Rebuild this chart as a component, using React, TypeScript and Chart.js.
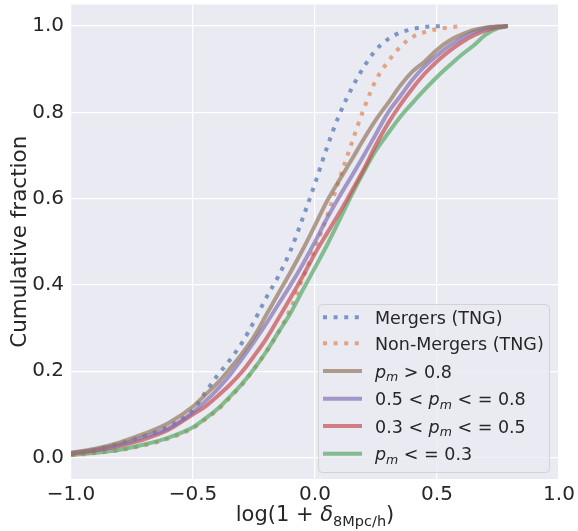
import React, { useEffect, useRef } from 'react';
import { Chart, registerables } from 'chart.js';

Chart.register(...registerables);

const xTicks = [-1.0, -0.5, 0.0, 0.5, 1.0];
const yTicks = [0.0, 0.2, 0.4, 0.6, 0.8, 1.0];

const xMergers = [-1, -0.9, -0.8, -0.7, -0.6, -0.5, -0.45, -0.4, -0.35, -0.3, -0.25, -0.2, -0.15, -0.1, -0.05, 0, 0.05, 0.1, 0.15, 0.2, 0.25, 0.3, 0.35, 0.4, 0.45, 0.53];
const yMergers = [0.008, 0.018, 0.032, 0.05, 0.072, 0.11, 0.15, 0.19, 0.225, 0.265, 0.315, 0.37, 0.42, 0.48, 0.555, 0.635, 0.72, 0.795, 0.855, 0.905, 0.945, 0.97, 0.985, 0.993, 0.998, 1.0];

const xNonMergers = [-1, -0.9, -0.8, -0.7, -0.6, -0.5, -0.45, -0.4, -0.35, -0.3, -0.25, -0.2, -0.15, -0.1, -0.05, 0, 0.05, 0.1, 0.15, 0.2, 0.25, 0.3, 0.35, 0.4, 0.45, 0.5, 0.55, 0.61];
const yNonMergers = [0.005, 0.01, 0.017, 0.028, 0.044, 0.068, 0.088, 0.11, 0.138, 0.168, 0.205, 0.245, 0.29, 0.345, 0.415, 0.485, 0.56, 0.645, 0.728, 0.808, 0.875, 0.918, 0.952, 0.975, 0.986, 0.993, 0.997, 1.0];

const xPm = [-1, -0.9, -0.8, -0.7, -0.6, -0.5, -0.45, -0.4, -0.35, -0.3, -0.25, -0.2, -0.15, -0.1, -0.05, 0, 0.05, 0.1, 0.15, 0.2, 0.25, 0.3, 0.35, 0.4, 0.45, 0.5, 0.55, 0.6, 0.65, 0.7, 0.75, 0.79];
const yPmHigh = [0.011, 0.02, 0.035, 0.055, 0.08, 0.118, 0.145, 0.172, 0.205, 0.24, 0.28, 0.33, 0.38, 0.43, 0.482, 0.538, 0.595, 0.643, 0.69, 0.738, 0.783, 0.822, 0.862, 0.895, 0.918, 0.945, 0.966, 0.98, 0.991, 0.997, 0.999, 1.0];
const yPmMidHigh = [0.01, 0.018, 0.03, 0.048, 0.068, 0.105, 0.13, 0.158, 0.19, 0.228, 0.268, 0.31, 0.355, 0.4, 0.448, 0.5, 0.555, 0.605, 0.652, 0.7, 0.75, 0.8, 0.838, 0.876, 0.907, 0.932, 0.954, 0.972, 0.986, 0.995, 0.999, 1.0];
const yPmMidLow = [0.008, 0.016, 0.027, 0.042, 0.064, 0.1, 0.118, 0.142, 0.168, 0.198, 0.235, 0.275, 0.322, 0.37, 0.42, 0.473, 0.52, 0.567, 0.617, 0.668, 0.725, 0.775, 0.818, 0.856, 0.89, 0.918, 0.942, 0.962, 0.978, 0.99, 0.997, 1.0];
const yPmLow = [0.006, 0.011, 0.018, 0.03, 0.046, 0.07, 0.09, 0.112, 0.14, 0.17, 0.205, 0.245, 0.29, 0.335, 0.388, 0.44, 0.493, 0.55, 0.608, 0.662, 0.712, 0.752, 0.79, 0.822, 0.853, 0.882, 0.908, 0.933, 0.955, 0.98, 0.995, 1.0];

const FONT = '"DejaVu Sans", sans-serif';
const TEXT = '#262626';

type Seg = { t: string; it?: boolean; sub?: boolean };

const legendItems: { label: Seg[]; color: string; dotted: boolean }[] = [
  { label: [{ t: 'Mergers (TNG)' }], color: 'rgba(76,114,176,0.7)', dotted: true },
  { label: [{ t: 'Non-Mergers (TNG)' }], color: 'rgba(221,132,82,0.7)', dotted: true },
  { label: [{ t: 'p', it: true }, { t: 'm', it: true, sub: true }, { t: ' > 0.8' }], color: 'rgba(147,120,96,0.7)', dotted: false },
  { label: [{ t: '0.5 < ' }, { t: 'p', it: true }, { t: 'm', it: true, sub: true }, { t: ' < = 0.8' }], color: 'rgba(129,114,179,0.7)', dotted: false },
  { label: [{ t: '0.3 < ' }, { t: 'p', it: true }, { t: 'm', it: true, sub: true }, { t: ' < = 0.5' }], color: 'rgba(196,78,82,0.7)', dotted: false },
  { label: [{ t: 'p', it: true }, { t: 'm', it: true, sub: true }, { t: ' < = 0.3' }], color: 'rgba(85,168,104,0.7)', dotted: false },
];

function drawSegs(ctx: CanvasRenderingContext2D, segs: Seg[], x: number, y: number, size: number, subSize: number, subDy: number, measureOnly = false): number {
  let cx = x;
  for (const s of segs) {
    const sz = s.sub ? subSize : size;
    ctx.font = `${s.it ? 'italic ' : ''}${sz}px ${FONT}`;
    if (!measureOnly) ctx.fillText(s.t, cx, y + (s.sub ? subDy : 0));
    cx += ctx.measureText(s.t).width;
  }
  return cx - x;
}

const fmt = (v: number) => (v < 0 ? '\u2212' : '') + Math.abs(v).toFixed(1);

const decorPlugin = {
  id: 'decor',
  beforeDraw(chart: any) {
    const { ctx, chartArea: a } = chart;
    ctx.save();
    ctx.fillStyle = '#ffffff';
    ctx.fillRect(0, 0, chart.width, chart.height);
    ctx.fillStyle = '#EAEAF2';
    ctx.fillRect(a.left, a.top, a.right - a.left, a.bottom - a.top);
    ctx.restore();
  },
  afterDraw(chart: any) {
    const { ctx, chartArea: a } = chart;
    ctx.save();
    // legend box
    const bx = 318, by = 304, bw = 231, bh = 168;
    ctx.beginPath();
    (ctx as any).roundRect(bx + 0.5, by + 0.5, bw, bh, 4);
    ctx.fillStyle = 'rgba(234,234,242,0.8)';
    ctx.fill();
    ctx.strokeStyle = 'rgba(204,204,204,0.8)';
    ctx.lineWidth = 1;
    ctx.stroke();
    const rows = [317.3, 343.3, 371, 398.7, 426, 453.7];
    legendItems.forEach((it, i) => {
      const y = rows[i];
      ctx.beginPath();
      ctx.strokeStyle = it.color;
      ctx.lineWidth = 4;
      ctx.lineCap = 'butt';
      ctx.setLineDash(it.dotted ? [4, 6.6] : []);
      ctx.moveTo(323, y);
      ctx.lineTo(362, y);
      ctx.stroke();
      ctx.setLineDash([]);
      ctx.fillStyle = TEXT;
      ctx.textBaseline = 'alphabetic';
      ctx.textAlign = 'left';
      drawSegs(ctx, it.label, 375, y + 6.5, 17.5, 12.5, 3.5);
    });
    // x title
    const xt: Seg[] = [{ t: 'log(1 + ' }, { t: '\u03B4', it: true }, { t: '8Mpc/h', sub: true }, { t: ')' }];
    ctx.fillStyle = TEXT;
    ctx.textAlign = 'left';
    ctx.textBaseline = 'alphabetic';
    const w = drawSegs(ctx, xt, 0, 0, 21, 14.5, 4.5, true);
    const cx = (a.left + a.right) / 2;
    drawSegs(ctx, xt, cx - w / 2, 521, 21, 14.5, 4.5);
    // y title
    ctx.translate(20, (a.top + a.bottom) / 2);
    ctx.rotate(-Math.PI / 2);
    ctx.font = `21.5px ${FONT}`;
    ctx.textAlign = 'center';
    ctx.textBaseline = 'middle';
    ctx.fillText('Cumulative fraction', 0, 0);
    ctx.restore();
  },
};

function pts(xs: number[], ys: number[]) {
  return xs.map((x, i) => ({ x, y: ys[i] }));
}

export default function App() {
  const ref = useRef<HTMLCanvasElement | null>(null);
  useEffect(() => {
    if (!ref.current) return;
    const mk = (label: string, xs: number[], ys: number[], color: string, dotted: boolean, order: number) => ({
      label,
      data: pts(xs, ys),
      borderColor: color,
      backgroundColor: color,
      borderWidth: 4,
      borderDash: dotted ? [4, 6.6] : [],
      borderCapStyle: 'butt' as const,
      pointRadius: 0,
      fill: false,
      cubicInterpolationMode: 'monotone' as const,
      order,
    });
    const chart = new Chart(ref.current, {
      type: 'line',
      data: {
        datasets: [
          mk('Mergers (TNG)', xMergers, yMergers, legendItems[0].color, true, 5),
          mk('Non-Mergers (TNG)', xNonMergers, yNonMergers, legendItems[1].color, true, 4),
          mk('p_m > 0.8', xPm, yPmHigh, legendItems[2].color, false, 0),
          mk('0.5 < p_m <= 0.8', xPm, yPmMidHigh, legendItems[3].color, false, 1),
          mk('0.3 < p_m <= 0.5', xPm, yPmMidLow, legendItems[4].color, false, 2),
          mk('p_m <= 0.3', xPm, yPmLow, legendItems[5].color, false, 3),
        ] as any,
      },
      options: {
        animation: false,
        responsive: false,
        maintainAspectRatio: false,
        layout: { padding: { top: 4.5, right: 19, left: 0, bottom: 0 } },
        plugins: { legend: { display: false }, tooltip: { enabled: false } },
        scales: {
          x: {
            type: 'linear',
            min: -1,
            max: 1,
            afterBuildTicks: (s: any) => { s.ticks = xTicks.map((v) => ({ value: v })); },
            afterFit: (s: any) => { s.height = 52; s.paddingLeft = 0; s.paddingRight = 0; s.paddingTop = 0; s.paddingBottom = 0; },
            grid: { color: '#ffffff', lineWidth: 1.2, drawTicks: false },
            border: { display: false },
            ticks: { color: TEXT, font: { family: FONT, size: 20 }, padding: 4, autoSkip: false, maxRotation: 0, callback: (v: any) => fmt(Number(v)) },
          },
          y: {
            type: 'linear',
            min: -0.05,
            max: 1.05,
            afterBuildTicks: (s: any) => { s.ticks = yTicks.map((v) => ({ value: v })); },
            afterFit: (s: any) => { s.width = 71; s.paddingTop = 0; s.paddingBottom = 0; s.paddingLeft = 0; s.paddingRight = 0; },
            grid: { color: '#ffffff', lineWidth: 1.2, drawTicks: false },
            border: { display: false },
            ticks: { color: TEXT, font: { family: FONT, size: 20 }, padding: 7, autoSkip: false, callback: (v: any) => fmt(Number(v)) },
          },
        },
      },
      plugins: [decorPlugin],
    });
    return () => chart.destroy();
  }, []);
  return (
    <div style={{ position: 'absolute', left: 0, top: 0, width: 578, height: 531 }}>
      <canvas ref={ref} width={578} height={531} style={{ width: 578, height: 531 }} />
    </div>
  );
}
